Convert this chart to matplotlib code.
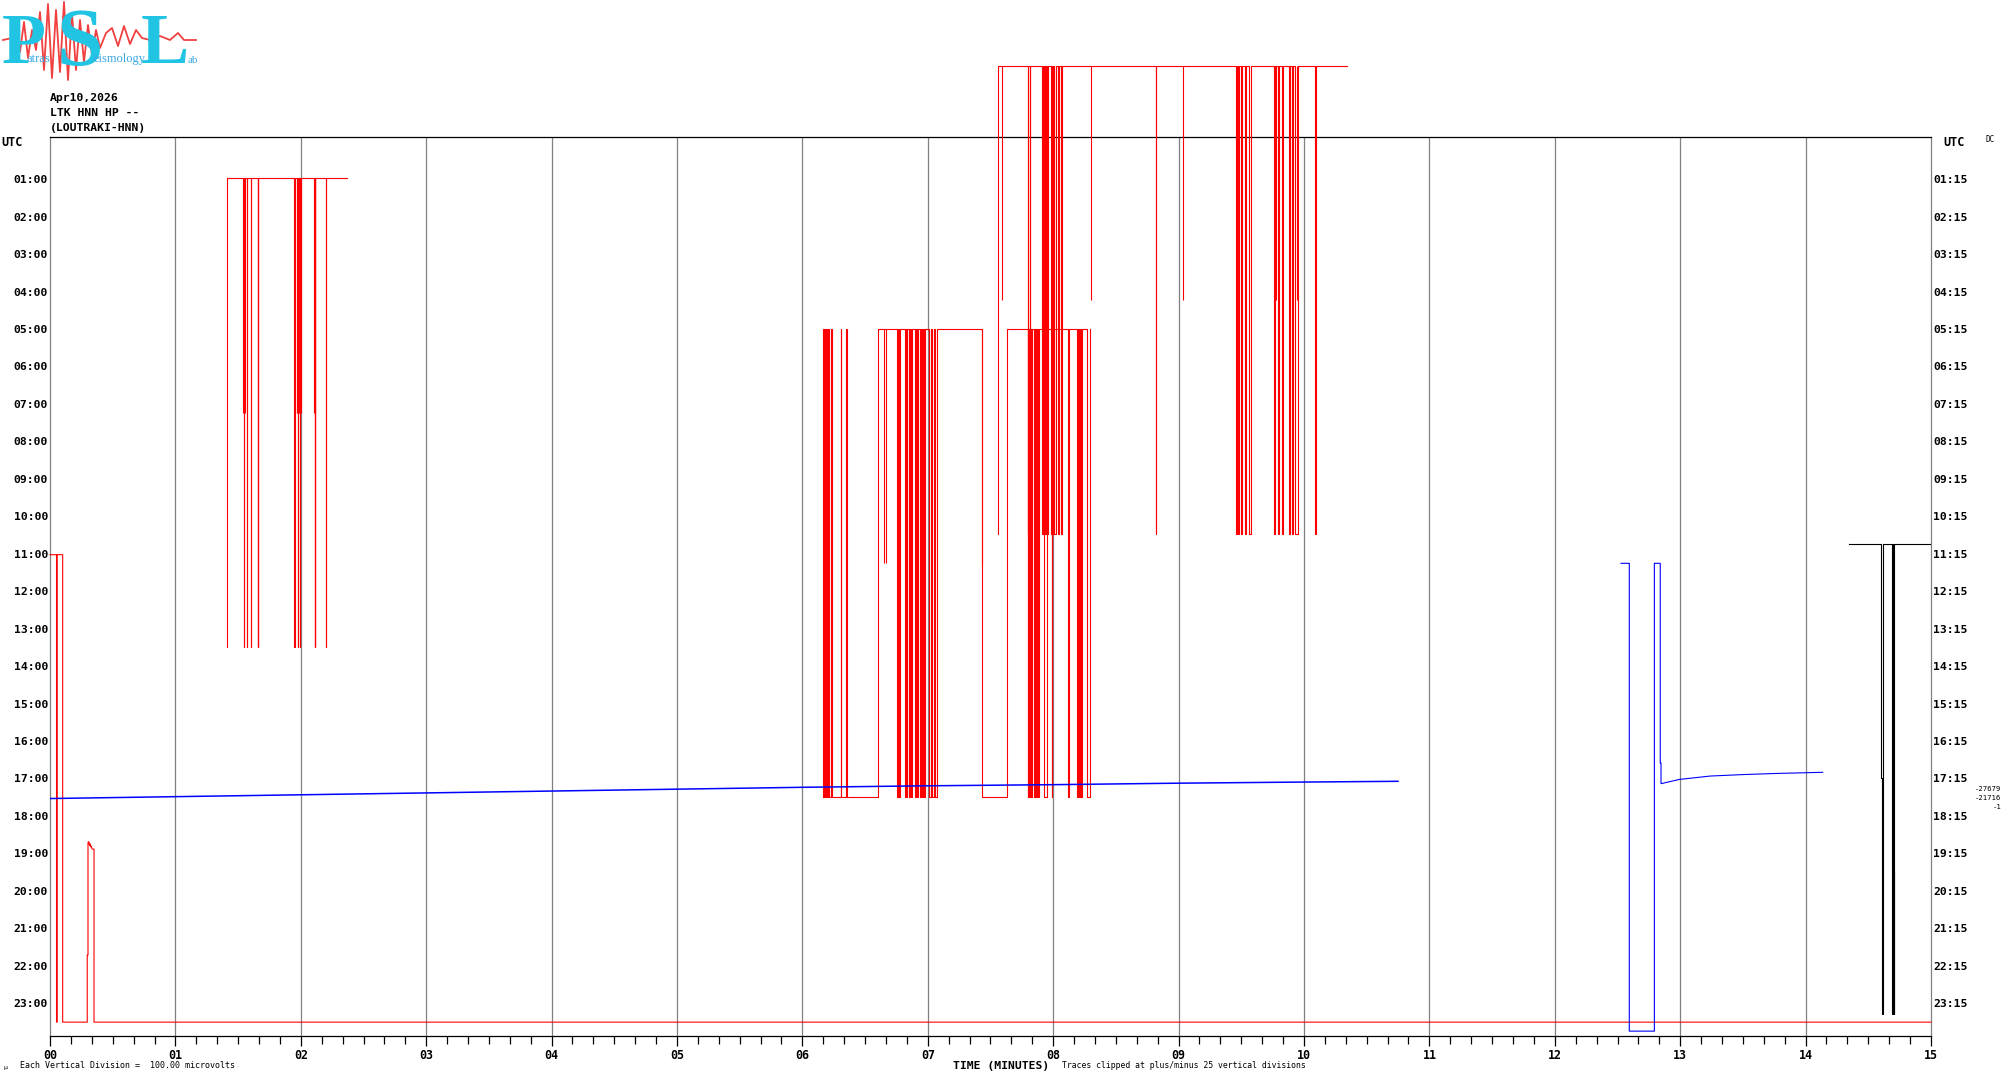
import numpy as np
import matplotlib.pyplot as plt
from matplotlib.transforms import blended_transform_factory

# helicorder page: x in minutes past the row start, y in rows (row 0 = 00:00 UTC)
row_labels_left = ["UTC"] + ["%02d:00" % h for h in range(1, 24)]
row_labels_right = ["UTC"] + ["%02d:15" % h for h in range(1, 24)]
minute_labels = ["%02d" % m for m in range(16)]

# red trace starting at 00:00 row (clipped top 11.0 / bottom 23.48)
redA_x = [0, 0.052, 0.052, 0.057, 0.057, 0.101, 0.101, 0.297, 0.297, 0.303, 0.303,
          0.310, 0.315, 0.320, 0.325, 0.330, 0.336, 0.344, 0.351, 0.351, 15.0]
redA_y = [11.0, 11.0, 23.48, 23.48, 11.0, 11.0, 23.48, 23.48, 21.69, 21.69, 18.68,
          18.66, 18.76, 18.72, 18.80, 18.78, 18.86, 18.86, 18.86, 23.48, 23.48]

# burst near 01:00 - narrow full-range spikes plus half-range stubs
redB_start = 1.414
redB_spikes = [1.549, 1.568, 1.600, 1.655, 1.658, 1.948, 1.975, 1.994, 2.111, 2.115, 2.201]
redB_lv = (13.47, 0.95)
redB_end = 2.366
redB_stubs = [1.542, 1.546, 1.551, 1.555, 1.967, 1.971, 1.980, 1.985, 1.990, 1.999,
              2.109, 2.117]
redB_mid = 7.21

# clipped square-wave bursts: toggle times (minutes), levels (start, other), end time
redC_tog = [6.167, 6.172, 6.180, 6.186, 6.193, 6.200, 6.208, 6.215, 6.225, 6.234,
            6.305, 6.308, 6.350, 6.353,
            6.600, 6.755, 6.760, 6.768, 6.778, 6.818, 6.825, 6.832, 6.837,
            6.853, 6.860, 6.866, 6.871, 6.898, 6.905, 6.915, 6.925, 6.935, 6.945,
            6.955, 6.965, 6.972, 6.978, 7.012, 7.022, 7.035, 7.048, 7.060, 7.071,
            7.430, 7.629, 7.797, 7.800, 7.805, 7.810, 7.815, 7.822, 7.826, 7.829,
            7.850, 7.856, 7.862, 7.868, 7.875, 7.887, 7.929, 7.948,
            7.988, 7.994, 8.121, 8.128, 8.188, 8.196, 8.205, 8.212, 8.220, 8.227,
            8.272, 8.294]
redC_lv = (17.48, 4.97)
redC_end = 8.294
redC_stubs = [6.654, 6.667, 7.435]
redC_mid = 11.22

redD_tog = [7.562, 7.797, 7.803, 7.812, 7.817, 7.910, 7.915, 7.922, 7.928, 7.935, 7.940,
            7.950, 7.961, 7.981, 7.990, 7.995, 8.005, 8.010, 8.022, 8.042, 8.050,
            8.065, 8.073, 8.818, 8.822, 9.455, 9.462, 9.475, 9.482, 9.500, 9.508,
            9.530, 9.540, 9.560, 9.577, 9.762, 9.770, 9.790, 9.800, 9.825, 9.833,
            9.884, 9.892, 9.905, 9.915, 9.930, 9.956, 10.085, 10.093]
redD_lv = (10.46, -2.06)
redD_end = 10.345
redD_stubs = [7.592, 8.298, 9.035, 9.470, 9.780, 9.945]
redD_mid = 4.20

# blue trace (row 17) and its second segment
blue1_x = [0, 1, 2, 3, 4, 5, 6, 7, 8, 9, 10, 10.75]
blue1_y = [17.51, 17.46, 17.41, 17.36, 17.31, 17.26, 17.21, 17.17, 17.14, 17.10, 17.07, 17.05]
blue2_x = [12.528, 12.594, 12.594, 12.794, 12.794, 12.841, 12.841, 12.847, 12.847,
           12.852, 12.993, 13.238, 13.503, 13.769, 14.136]
blue2_y = [11.23, 11.23, 23.72, 23.72, 11.23, 11.23, 16.56, 16.56, 17.11,
           17.11, 17.00, 16.91, 16.87, 16.84, 16.81]

# black trace
black_x = [14.349, 14.599, 14.599, 14.607, 14.607, 14.620, 14.620, 14.692, 14.692,
           14.697, 14.697, 14.700, 14.700, 14.704, 14.704, 14.707, 14.707, 15.0]
black_y = [10.72, 10.72, 16.97, 16.97, 23.25, 23.25, 10.72, 10.72, 23.25,
           23.25, 10.72, 10.72, 19.44, 19.44, 23.25, 23.25, 10.72, 10.72]

clip_values = ["-27679", "-21716", "-1"]

# logo seismogram (pixels inside the logo box)
wave_x = [3, 12, 16, 20, 24, 28, 32, 36, 40, 44, 48, 52, 56, 60, 64, 68, 72, 76, 80, 84,
          88, 92, 96, 100, 106, 112, 118, 124, 130, 136, 142, 150, 160, 170, 178, 184, 196]
wave_y = [40, 38, 28, 52, 22, 58, 30, 50, 12, 70, 4, 78, 10, 72, 2, 80, 14, 70, 20, 62,
          25, 55, 30, 48, 33, 28, 46, 26, 44, 30, 38, 40, 36, 40, 33, 40, 40]


def square(tog, lv, x_end):
    xs, ys = [tog[0]], [lv[0]]
    s = 0
    for t in tog:
        xs.append(t); ys.append(lv[s])
        s ^= 1
        xs.append(t); ys.append(lv[s])
    xs.append(x_end); ys.append(lv[s])
    return xs, ys


redB_tog = [redB_start]
for s in redB_spikes:
    redB_tog += [s, s + 0.002]

W, H = 2010, 1080
fig = plt.figure(figsize=(W / 100, H / 100), dpi=100)
fig.patch.set_facecolor("white")
ax = fig.add_axes([50 / W, 44 / H, 1881 / W, 899 / H])
ax.set_xlim(0, 15)
ax.set_ylim(23.85, -0.152)

lw = 0.8
for m in range(1, 15):
    ax.axvline(m, color="#808080", lw=0.9, zorder=1)

ax.plot(redA_x, redA_y, color="red", lw=lw, clip_on=False, zorder=3)
for tog, lv, end, stubs, mid in [(redB_tog, redB_lv, redB_end, redB_stubs, redB_mid),
                                 (redC_tog, redC_lv, redC_end, redC_stubs, redC_mid),
                                 (redD_tog, redD_lv, redD_end, redD_stubs, redD_mid)]:
    xs, ys = square(tog, lv, end)
    ax.plot(xs, ys, color="red", lw=lw, clip_on=False, zorder=3)
    ax.vlines(stubs, lv[1], mid, color="red", lw=lw, clip_on=False, zorder=3)

ax.plot(blue1_x, blue1_y, color="#0000FF", lw=1.1, zorder=4)
ax.plot(blue2_x, blue2_y, color="#0000FF", lw=lw, zorder=4)
ax.plot(black_x, black_y, color="black", lw=lw, zorder=4)

# frame
for side in ["left", "right"]:
    ax.spines[side].set_color("#808080")
ax.spines["top"].set_color("black")
ax.spines["bottom"].set_color("black")
for s in ax.spines.values():
    s.set_linewidth(0.9)

ax.set_xticks(range(16))
ax.set_xticklabels(minute_labels, fontfamily="DejaVu Sans Mono", fontweight="bold", fontsize=8.4)
ax.set_xticks(np.arange(0, 15.01, 1 / 6), minor=True)
ax.tick_params(axis="x", which="major", direction="out", length=7.5, width=0.9, pad=2)
ax.tick_params(axis="x", which="minor", direction="out", length=5.5, width=0.9)
ax.set_yticks([])

tr_left = blended_transform_factory(fig.transFigure, ax.transData)
for i in range(24):
    if i == 0:
        ax.text(1 / W, i, "UTC", transform=tr_left, ha="left", va="center",
                fontfamily="DejaVu Sans Mono", fontweight="bold", fontsize=8.5)
        ax.text(1943 / W, i, "UTC", transform=tr_left, ha="left", va="center",
                fontfamily="DejaVu Sans Mono", fontweight="bold", fontsize=8.5)
        continue
    ax.text(48 / W, i, row_labels_left[i], transform=tr_left, ha="right", va="center",
            fontfamily="DejaVu Sans Mono", fontweight="bold", fontsize=8.2)
    ax.text(1933 / W, i, row_labels_right[i], transform=tr_left, ha="left", va="center",
            fontfamily="DejaVu Sans Mono", fontweight="bold", fontsize=8.2)

fig.text(1985 / W, 1 - 140 / H, "DC", fontsize=5.5, fontfamily="DejaVu Sans Mono", va="center")
for k, v in enumerate(clip_values):
    fig.text(2001 / W, 1 - (789 + 9 * k) / H, v, fontsize=5.2, ha="right", va="center",
             fontfamily="DejaVu Sans Mono")

# header
for k, t in enumerate(["Apr10,2026", "LTK HNN HP --", "(LOUTRAKI-HNN)"]):
    fig.text(50 / W, 1 - (98 + 15 * k) / H, t, fontfamily="DejaVu Sans Mono",
             fontweight="bold", fontsize=8.2, va="center")

# footer
fig.text(3 / W, 1 - 1067 / H, "\u00b5", fontsize=4.5, va="center")
fig.text(20 / W, 1 - 1065 / H, "Each Vertical Division =  100.00 microvolts",
         fontfamily="DejaVu Sans Mono", fontsize=6, va="center")
fig.text(953 / W, 1 - 1066 / H, "TIME (MINUTES)", fontfamily="DejaVu Sans Mono",
         fontweight="bold", fontsize=8.2, va="center")
fig.text(1062 / W, 1 - 1066 / H, "Traces clipped at plus/minus 25 vertical divisions",
         fontfamily="DejaVu Sans Mono", fontsize=5.9, va="center")

# logo
lg = fig.add_axes([0, 1 - 85 / H, 210 / W, 85 / H])
lg.set_xlim(0, 210)
lg.set_ylim(85, 0)
lg.axis("off")
lg.plot(wave_x, wave_y, color="#F04040", lw=1.3, zorder=1)
cy = "#22C4E4"
lg.text(2, 63, "P", fontfamily="Liberation Serif", fontweight="bold", fontsize=52, color=cy,
        va="baseline", zorder=2)
lg.text(57, 65, "S", fontfamily="Liberation Serif", fontweight="bold", fontsize=60, color=cy,
        va="baseline", zorder=2)
lg.text(141, 63, "L", fontfamily="Liberation Serif", fontweight="bold", fontsize=52, color=cy,
        va="baseline", zorder=2)
lg.text(26, 62, "atras", fontfamily="Liberation Serif", fontsize=9, color="#3AA8E0",
        va="baseline", zorder=3)
lg.text(93, 62, "eismology", fontfamily="Liberation Serif", fontsize=9, color="#3AA8E0",
        va="baseline", zorder=3)
lg.text(188, 63, "ab", fontfamily="Liberation Serif", fontsize=8, color="#3AA8E0",
        va="baseline", zorder=3)

fig.savefig("out.png", dpi=100, facecolor="white")
